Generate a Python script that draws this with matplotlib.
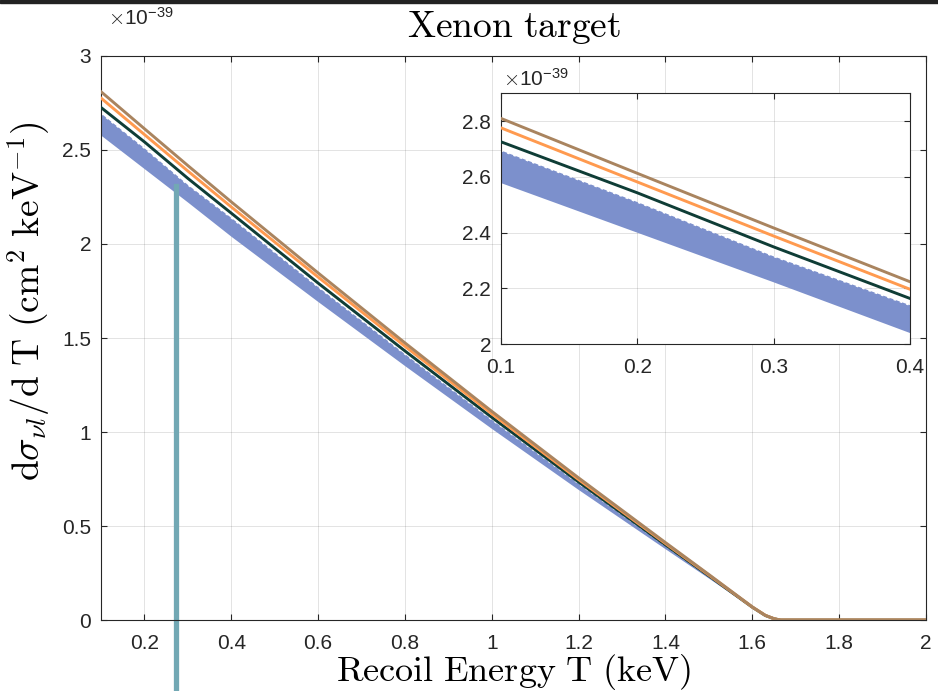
import matplotlib.pyplot as plt

plt.rcParams['font.family'] = ['Liberation Sans', 'DejaVu Sans']
plt.rcParams['mathtext.fontset'] = 'cm'

# Data: recoil energy (keV) and dsigma/dT in units of 1e-39 cm^2 keV^-1
recoil_T = [0.1, 0.2, 0.3, 0.4, 0.6, 0.8, 1.0, 1.2, 1.4, 1.5, 1.6, 1.63, 1.65, 1.665, 2.0]
brown_curve = [2.81, 2.613, 2.417, 2.224, 1.846, 1.474, 1.11, 0.756, 0.412, 0.242, 0.07, 0.025, 0.007, 0.0, 0.0]
orange_curve = [2.776, 2.582, 2.388, 2.197, 1.824, 1.456, 1.097, 0.747, 0.407, 0.239, 0.069, 0.025, 0.007, 0.0, 0.0]
green_curve = [2.726, 2.543, 2.349, 2.164, 1.792, 1.431, 1.078, 0.734, 0.400, 0.235, 0.068, 0.024, 0.007, 0.0, 0.0]
band_high = [2.695, 2.51, 2.315, 2.14, 1.772, 1.415, 1.066, 0.726, 0.396, 0.232, 0.067, 0.024, 0.007, 0.0, 0.0]
band_low = [2.578, 2.40, 2.222, 2.04, 1.693, 1.352, 1.018, 0.693, 0.378, 0.222, 0.064, 0.023, 0.006, 0.0, 0.0]

# vertical marker
marker_T = 0.272
marker_top = 2.31

main_xticks = [0.2, 0.4, 0.6, 0.8, 1.0, 1.2, 1.4, 1.6, 1.8, 2.0]
main_xlabels = ['0.2', '0.4', '0.6', '0.8', '1', '1.2', '1.4', '1.6', '1.8', '2']
main_yticks = [0, 0.5, 1, 1.5, 2, 2.5, 3]
main_ylabels = ['0', '0.5', '1', '1.5', '2', '2.5', '3']
inset_xticks = [0.1, 0.2, 0.3, 0.4]
inset_xlabels = ['0.1', '0.2', '0.3', '0.4']
inset_yticks = [2.0, 2.2, 2.4, 2.6, 2.8]
inset_ylabels = ['2', '2.2', '2.4', '2.6', '2.8']

axis_col = '#262626'


def draw_curves(a):
    a.fill_between(recoil_T, band_low, band_high, color='#7c90cc', lw=0, zorder=2)
    a.plot(recoil_T, band_high, color='white', lw=1.2, ls=(0, (1.5, 2.5)), zorder=2.1)
    a.plot(recoil_T, green_curve, color='#0f3d36', lw=2.1, zorder=3)
    a.plot(recoil_T, orange_curve, color='#ff9a4f', lw=2.1, zorder=3.1)
    a.plot(recoil_T, brown_curve, color='#a9845f', lw=2.1, zorder=3.2)


def style_axes(a):
    a.grid(True, color=axis_col, alpha=0.13, lw=0.7)
    a.set_axisbelow(True)
    a.tick_params(direction='in', top=True, right=True, length=4, width=0.8,
                  color=axis_col, labelcolor=axis_col, labelsize=15)
    a.tick_params(axis='x', pad=10)
    a.tick_params(axis='y', pad=7)
    for s in a.spines.values():
        s.set_color(axis_col)
        s.set_linewidth(0.8)


fig = plt.figure(figsize=(9.38, 6.91), dpi=100)
ax = fig.add_axes([0.1077, 0.1027, 0.8795, 0.8163])
draw_curves(ax)
ax.plot([marker_T, marker_T], [-0.6, marker_top], color='#72a8b4', lw=3.8,
        clip_on=False, zorder=2.5)
ax.set_xlim(0.1, 2.0)
ax.set_ylim(0, 3)
ax.set_xticks(main_xticks, main_xlabels)
ax.set_yticks(main_yticks, main_ylabels)
style_axes(ax)
ax.text(0.008, 1.055, r'$\times\mathregular{10^{-39}}$', transform=ax.transAxes,
        fontsize=15, color=axis_col, va='baseline')
ax.set_title(r'$\mathrm{Xenon\ target}$', fontsize=27, pad=14)
ax.set_xlabel(r'$\mathrm{Recoil\ Energy\ T\ (keV)}$', fontsize=26)
ax.xaxis.set_label_coords(0.5, -0.056)
ax.set_ylabel(r'$\mathrm{d}\sigma_{\nu l}/\mathrm{d\ T\ (cm^2\ keV^{-1})}$', fontsize=27)
ax.yaxis.set_label_coords(-0.06, 0.565)

# inset zoom
axin = fig.add_axes([0.534, 0.502, 0.436, 0.363])
draw_curves(axin)
axin.set_xlim(0.1, 0.4)
axin.set_ylim(2.0, 2.9)
axin.set_xticks(inset_xticks, inset_xlabels)
axin.set_yticks(inset_yticks, inset_ylabels)
style_axes(axin)
axin.text(0.005, 1.028, r'$\times\mathregular{10^{-39}}$', transform=axin.transAxes,
          fontsize=15, color=axis_col, va='baseline')

# dark strip at top edge of the screenshot
fig.patches.append(plt.Rectangle((0, 1 - 3 / 691), 1, 3 / 691, transform=fig.transFigure,
                                 color='#222222', zorder=10))

fig.savefig('out.png', dpi=100)
